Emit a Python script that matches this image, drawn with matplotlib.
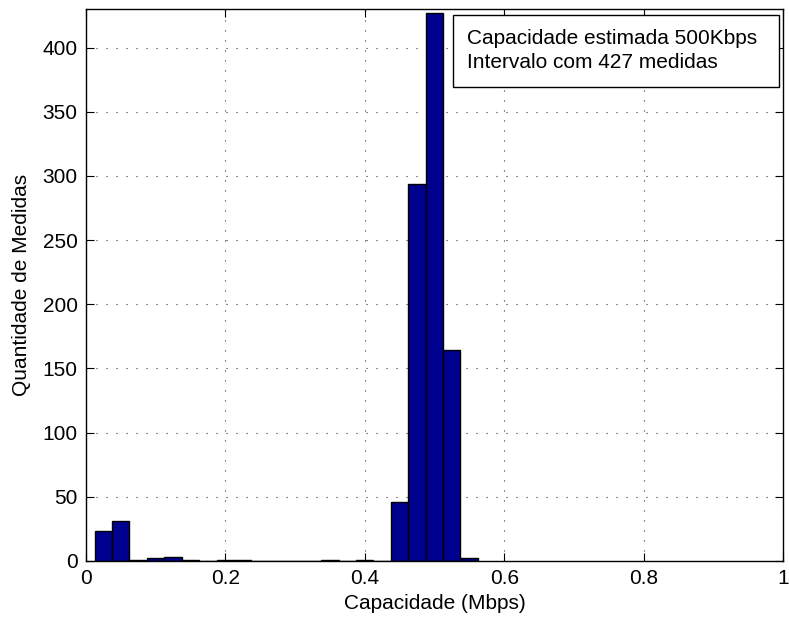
import numpy as np
import matplotlib.pyplot as plt
from matplotlib.patches import Rectangle

plt.rcParams['font.family'] = ['Liberation Sans', 'DejaVu Sans']

# histogram of capacity estimates (Mbps), 22 bins of 0.025
bin_start = 0.0123
bin_width = 0.025
counts = [23, 31, 1, 2, 3, 1, 0, 1, 1, 0, 0, 0, 0, 1, 0, 1, 0, 46, 294, 427, 164, 2]
x_ticks = [0, 0.2, 0.4, 0.6, 0.8, 1]
x_ticklabels = ['0', '0.2', '0.4', '0.6', '0.8', '1']
y_ticks = [0, 50, 100, 150, 200, 250, 300, 350, 400]
legend_lines = ["Capacidade estimada 500Kbps", "Intervalo com 427 medidas"]

W, H = 789, 619
fs = 15
fig = plt.figure(figsize=(W / 100, H / 100), dpi=100)
ax = fig.add_axes([86 / W, 1 - 561 / H, (783 - 86) / W, (561 - 9) / H])

lefts = bin_start + bin_width * np.arange(len(counts))
ax.bar(lefts, counts, width=bin_width, align='edge', color='#00008F',
       edgecolor='black', linewidth=1.0, zorder=3)

ax.set_xlim(0, 1)
ax.set_ylim(0, 430)
ax.set_xticks(x_ticks)
ax.set_xticklabels(x_ticklabels)
ax.set_yticks(y_ticks)
ax.tick_params(direction='in', length=6, width=0.8, top=True, right=True,
               labelsize=fs, pad=6)
ax.grid(True, color='#333333', linestyle=(0, (1, 8)), linewidth=0.8, zorder=0)
for s in ax.spines.values():
    s.set_linewidth(1.0)
    s.set_zorder(5)

ax.set_xlabel("Capacidade (Mbps)", fontsize=fs, labelpad=4)
ax.set_ylabel("Quantidade de Medidas", fontsize=fs, labelpad=8)

# annotation box (top right)
box = Rectangle((453 / W, 1 - 87 / H), (779 - 453) / W, (87 - 15) / H,
                transform=fig.transFigure, facecolor='white', edgecolor='black',
                linewidth=1.0, zorder=10)
fig.patches.append(box)
fig.text(467 / W, 1 - 44 / H, legend_lines[0], fontsize=fs, va='baseline', zorder=11)
fig.text(467 / W, 1 - 68 / H, legend_lines[1], fontsize=fs, va='baseline', zorder=11)

fig.savefig("out.png", dpi=100)
